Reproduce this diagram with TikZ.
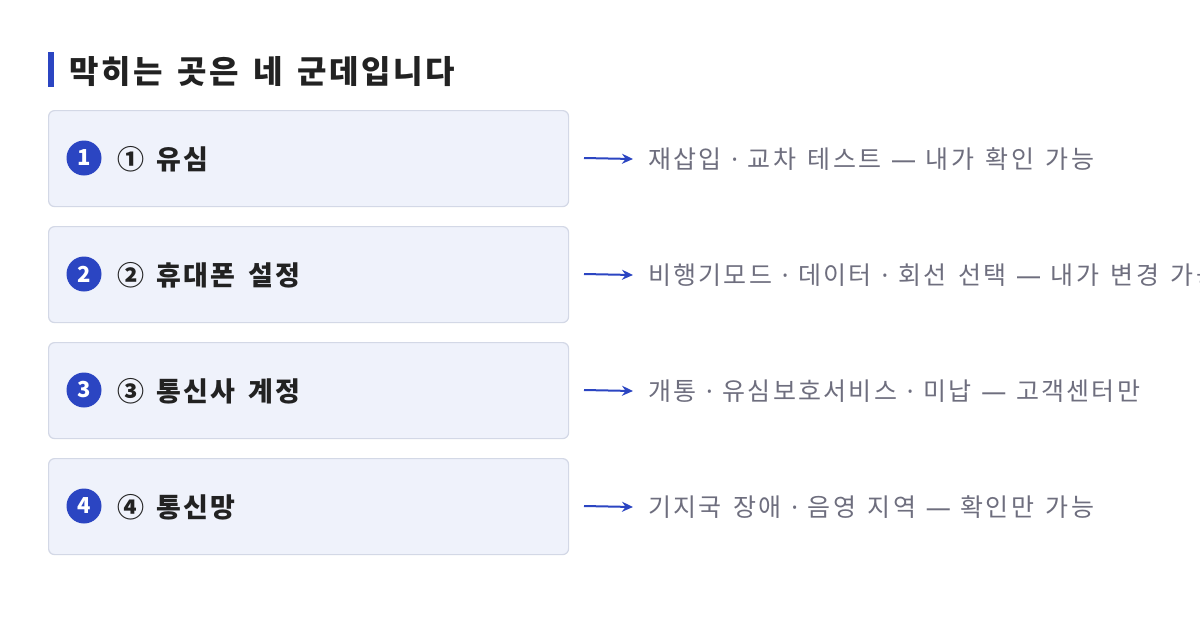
\documentclass[tikz,border=0pt]{standalone}
\usepackage{fontspec}
\setmainfont{Noto Sans CJK KR}[WordSpace=1.5,LetterSpace=5]
\newfontfamily\lat{Noto Sans}[WordSpace=1.5]
\usetikzlibrary{arrows.meta}
\definecolor{blu}{HTML}{2B45C2}
\definecolor{boxf}{HTML}{EFF2FB}
\definecolor{boxd}{HTML}{D3D8E6}
\definecolor{txt}{HTML}{222222}
\definecolor{gr}{HTML}{6E6E7E}
\newcommand{\md}{{\lat\ ·\ }}
\newcommand{\dsh}{{\lat\ —\ }}
\tikzset{
 box/.style={draw=boxd,fill=boxf,line width=1.2pt,rounded corners=6pt,minimum width=520pt,minimum height=96pt,anchor=north west},
 num/.style={circle,fill=blu,minimum size=35pt,inner sep=0pt,text=white,font=\fontsize{22}{22}\selectfont\bfseries},
 lab/.style={anchor=west,text=txt,inner sep=0pt,font=\fontsize{27}{27}\selectfont\bfseries\addfontfeatures{LetterSpace=8}},
 desc/.style={anchor=west,text=gr,inner sep=0pt,font=\fontsize{25}{25}\selectfont\addfontfeatures{LetterSpace=9}},
 arr/.style={-{Stealth[length=11pt,width=10pt]},draw=blu,line width=2pt}
}
\begin{document}
\begin{tikzpicture}[x=1pt,y=-1pt]
\useasboundingbox (0,0) rectangle (1200,622);
\fill[white] (0,0) rectangle (1200,622);
\fill[blu] (48,52) rectangle (54,87);
\node[anchor=west,inner sep=0pt,text=txt,font=\fontsize{32}{32}\selectfont\bfseries\addfontfeatures{LetterSpace=8}] (title) at (69,72) {막히는 곳은 네 군데입니다};
\foreach \i/\y/\l/\d in {1/110/① 유심/재삽입\md 교차 테스트\dsh 내가 확인 가능,
 2/226/② 휴대폰 설정/비행기모드\md 데이터\md 회선 선택\dsh 내가 변경 가능,
 3/342/③ 통신사 계정/개통\md 유심보호서비스\md 미납\dsh 고객센터만,
 4/458/④ 통신망/기지국 장애\md 음영 지역\dsh 확인만 가능}{
 \node[box] (b\i) at (48,\y) {};
 \node[num] (n\i) at (84,\y+48) {\i};
 \node[lab] (l\i) at (117,\y+49) {\l};
 \coordinate (s\i) at (584,\y+48);
 \node[desc] (d\i) at (648,\y+49) {\d};
 \draw[arr] (s\i) -- ([xshift=-15pt]d\i.west);
}
\end{tikzpicture}
\end{document}
